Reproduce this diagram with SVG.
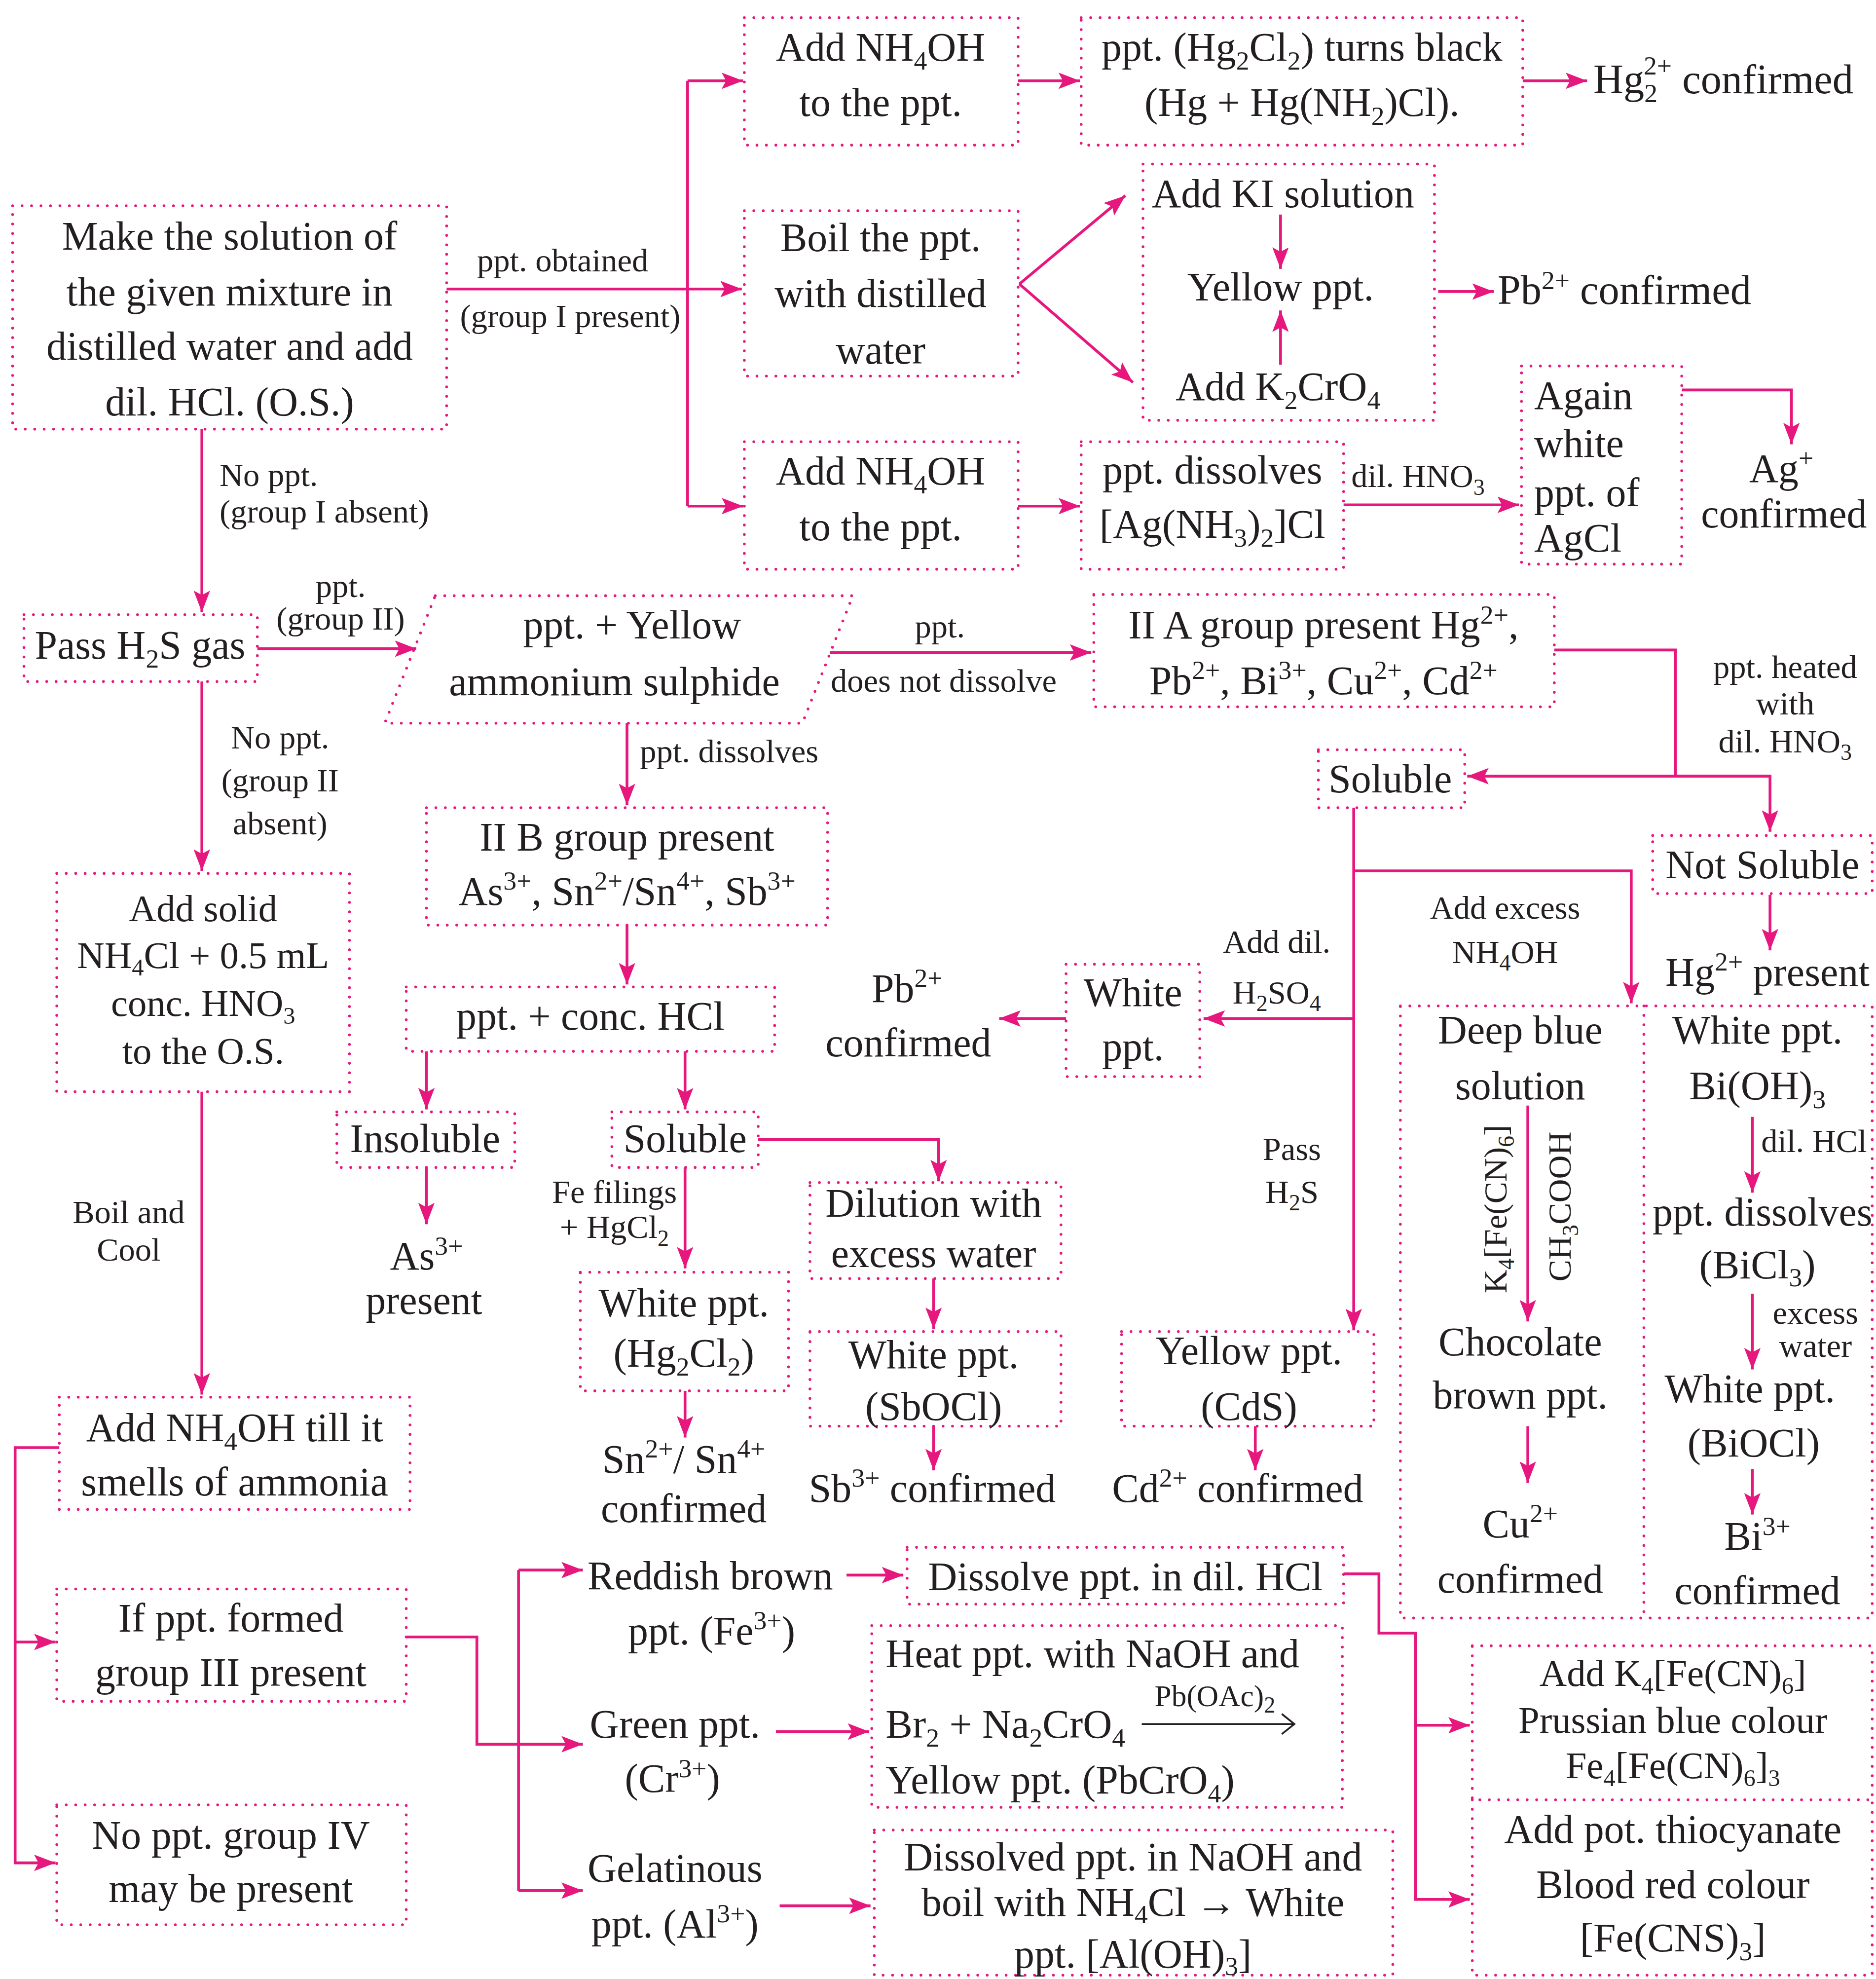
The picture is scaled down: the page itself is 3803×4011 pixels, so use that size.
<svg xmlns="http://www.w3.org/2000/svg" width="3803" height="4011" viewBox="0 0 3803 4011">
<style>
text{font-family:"Liberation Serif","Times New Roman",serif;fill:#231f20}
.m{font-size:32px;text-anchor:middle}
.m30{font-size:30px;text-anchor:middle}
.ml{font-size:32px;text-anchor:start}
.lb{font-size:26px;text-anchor:middle}
.lbs{font-size:26px;text-anchor:start}
.s{font-size:21px}
.s3{font-size:19px}
.s2{font-size:18px}
.box{fill:none;stroke:#E6177D;stroke-width:2.2;stroke-dasharray:0 7.5;stroke-linecap:round}
.c{fill:none;stroke:#E6177D;stroke-width:2.2}
.a{marker-end:url(#ah)}
</style>
<defs>
<marker id="ah" markerUnits="userSpaceOnUse" markerWidth="18" markerHeight="13" refX="17" refY="6.5" orient="auto"><path d="M0,0 L17,6.5 L0,13 L3.5,6.5 z" fill="#E6177D"/></marker>
</defs>
<rect width="3803" height="4011" fill="#ffffff"/>
<g transform="scale(2.5575 2.558)">
<g id="connectors">
<path class="c a" d="M354,229 H588"/>
<path class="c" d="M545,64 V401"/>
<path class="c a" d="M545,64 H589"/>
<path class="c a" d="M545,401 H589"/>
<path class="c a" d="M807,64 H856"/>
<path class="c a" d="M1207,64 H1258"/>
<path class="c a" d="M808,225 L892,155"/>
<path class="c a" d="M808,225 L898,303"/>
<path class="c a" d="M1015,170 V213"/>
<path class="c a" d="M1015,289 V246"/>
<path class="c a" d="M1140,231 H1184"/>
<path class="c a" d="M807,401 H856"/>
<path class="c a" d="M1065,400 H1204"/>
<path class="c a" d="M1333,309 H1420 V352"/>
<path class="c a" d="M160,340 V485"/>
<path class="c a" d="M204,514 H330"/>
<path class="c a" d="M658,517 H865"/>
<path class="c" d="M1232,515 H1328 V615"/>
<path class="c a" d="M1403,615 H1163"/>
<path class="c a" d="M1328,615 H1403 V659"/>
<path class="c a" d="M1403,709 V753"/>
<path class="c a" d="M160,540 V690"/>
<path class="c a" d="M497,573 V638"/>
<path class="c a" d="M497,733 V780"/>
<path class="c a" d="M338,833 V879"/>
<path class="c a" d="M543,833 V879"/>
<path class="c a" d="M338,925 V970"/>
<path class="c a" d="M601,903 H744 V936"/>
<path class="c a" d="M543,925 V1005"/>
<path class="c a" d="M543,1102 V1139"/>
<path class="c a" d="M740,1013 V1053"/>
<path class="c a" d="M740,1130 V1165"/>
<path class="c a" d="M1073,640 V1054"/>
<path class="c a" d="M1073,690 H1293 V795"/>
<path class="c a" d="M1073,807 H954"/>
<path class="c a" d="M845,807 H792"/>
<path class="c a" d="M995,1130 V1165"/>
<path class="c a" d="M1211,876 V1047"/>
<path class="c a" d="M1211,1130 V1175"/>
<path class="c a" d="M1389,885 V945"/>
<path class="c a" d="M1389,1025 V1085"/>
<path class="c a" d="M1389,1164 V1200"/>
<path class="c a" d="M160,865 V1105"/>
<path class="c a" d="M47,1147 H12 V1476 H44"/>
<path class="c a" d="M12,1301 H44"/>
<path class="c" d="M322,1297 H378 V1382 H411"/>
<path class="c" d="M411,1244 V1498"/>
<path class="c a" d="M411,1244 H462"/>
<path class="c a" d="M411,1382 H462"/>
<path class="c a" d="M411,1498 H462"/>
<path class="c a" d="M671,1248 H716"/>
<path class="c a" d="M615,1372 H689"/>
<path class="c a" d="M618,1510 H690"/>
<path class="c a" d="M1065,1247 H1093 V1294 H1122 V1505 H1165"/>
<path class="c a" d="M1122,1367 H1165"/>
</g>
<g id="n-start">
<rect class="box" x="10" y="163" width="344" height="177"/>
<text class="m" x="182" y="198">Make the solution of</text>
<text class="m" x="182" y="242">the given mixture in</text>
<text class="m" x="182" y="285">distilled water and add</text>
<text class="m" x="182" y="329">dil. HCl. (O.S.)</text>
</g>
<g id="l-group1">
<text class="lb" x="446" y="215">ppt. obtained</text>
<text class="lb" x="452" y="259">(group I present)</text>
<text class="lbs" x="174" y="385">No ppt.</text>
<text class="lbs" x="174" y="414">(group I absent)</text>
</g>
<g id="n-nh4oh-1">
<rect class="box" x="590" y="14" width="217" height="101"/>
<text class="m" x="698" y="48">Add NH<tspan class="s" dy="7">4</tspan><tspan dy="-7">OH</tspan></text>
<text class="m" x="698" y="92">to the ppt.</text>
</g>
<g id="n-hg2cl2">
<rect class="box" x="857" y="14" width="350" height="101"/>
<text class="m" x="1032" y="48">ppt. (Hg<tspan class="s" dy="7">2</tspan><tspan dy="-7">Cl</tspan><tspan class="s" dy="7">2</tspan><tspan dy="-7">) turns black</tspan></text>
<text class="m" x="1032" y="92">(Hg + Hg(NH<tspan class="s" dy="7">2</tspan><tspan dy="-7">)Cl).</tspan></text>
</g>
<g id="r-hg22">
<text class="ml" x="1263" y="74" style="font-size:33px">Hg<tspan class="s" dy="7">2</tspan><tspan class="s" dx="-11" dy="-22">2+</tspan><tspan dy="15"> confirmed</tspan></text>
</g>
<g id="n-boil">
<rect class="box" x="590" y="167" width="217" height="131"/>
<text class="m" x="698" y="199">Boil the ppt.</text>
<text class="m" x="698" y="243">with distilled</text>
<text class="m" x="698" y="288">water</text>
</g>
<g id="n-ki">
<rect class="box" x="906" y="130" width="231" height="203"/>
<text class="m" x="1017" y="164">Add KI solution</text>
<text class="m" x="1015" y="238">Yellow ppt.</text>
<text class="m" x="1013" y="317">Add K<tspan class="s" dy="7">2</tspan><tspan dy="-7">CrO</tspan><tspan class="s" dy="7">4</tspan></text>
</g>
<g id="r-pb">
<text class="ml" x="1187" y="241" style="font-size:33px">Pb<tspan class="s" dy="-12">2+</tspan><tspan dy="12"> confirmed</tspan></text>
</g>
<g id="n-nh4oh-2">
<rect class="box" x="590" y="350" width="217" height="101"/>
<text class="m" x="698" y="384">Add NH<tspan class="s" dy="7">4</tspan><tspan dy="-7">OH</tspan></text>
<text class="m" x="698" y="428">to the ppt.</text>
</g>
<g id="n-agdiss">
<rect class="box" x="857" y="350" width="208" height="101"/>
<text class="m" x="961" y="383">ppt. dissolves</text>
<text class="m" x="961" y="426">[Ag(NH<tspan class="s" dy="7">3</tspan><tspan dy="-7">)</tspan><tspan class="s" dy="7">2</tspan><tspan dy="-7">]Cl</tspan></text>
<text class="lb" x="1124" y="386">dil. HNO<tspan class="s2" dy="6">3</tspan></text>
</g>
<g id="n-again">
<rect class="box" x="1206" y="290" width="127" height="157"/>
<text class="ml" x="1216" y="324">Again</text>
<text class="ml" x="1216" y="362">white</text>
<text class="ml" x="1216" y="401">ppt. of</text>
<text class="ml" x="1216" y="437">AgCl</text>
</g>
<g id="r-ag">
<text class="m" x="1412" y="382">Ag<tspan class="s" dy="-12">+</tspan></text>
<text class="m" x="1414" y="418">confirmed</text>
</g>
<g id="n-h2s">
<rect class="box" x="19" y="487" width="185" height="53"/>
<text class="m" x="111" y="522">Pass H<tspan class="s" dy="7">2</tspan><tspan dy="-7">S gas</tspan></text>
<text class="lb" x="270" y="473">ppt.</text>
<text class="lb" x="270" y="499">(group II)</text>
<text class="lb" x="222" y="593">No ppt.</text>
<text class="lb" x="222" y="627">(group II</text>
<text class="lb" x="222" y="661">absent)</text>
</g>
<g id="n-yellow-amm">
<path class="box" d="M345,472 H676 L636,573 H305 Z"/>
<text class="m" x="501" y="506">ppt. + Yellow</text>
<text class="m" x="487" y="551">ammonium sulphide</text>
<text class="lb" x="745" y="505">ppt.</text>
<text class="lb" x="748" y="548">does not dissolve</text>
<text class="lb" x="578" y="604">ppt. dissolves</text>
</g>
<g id="n-iia">
<rect class="box" x="867" y="471" width="365" height="89"/>
<text class="m" x="1049" y="506">II A group present Hg<tspan class="s" dy="-12">2+</tspan><tspan dy="12">,</tspan></text>
<text class="m" x="1049" y="550">Pb<tspan class="s" dy="-12">2+</tspan><tspan dy="12">, Bi</tspan><tspan class="s" dy="-12">3+</tspan><tspan dy="12">, Cu</tspan><tspan class="s" dy="-12">2+</tspan><tspan dy="12">, Cd</tspan><tspan class="s" dy="-12">2+</tspan></text>
<text class="lb" x="1415" y="537">ppt. heated</text>
<text class="lb" x="1415" y="566">with</text>
<text class="lb" x="1415" y="596">dil. HNO<tspan class="s2" dy="6">3</tspan></text>
</g>
<g id="n-soluble-a">
<rect class="box" x="1045" y="594" width="116" height="46"/>
<text class="m" x="1102" y="628">Soluble</text>
</g>
<g id="n-notsoluble">
<rect class="box" x="1310" y="662" width="174" height="46"/>
<text class="m" x="1397" y="696">Not Soluble</text>
<text class="m" x="1401" y="781">Hg<tspan class="s" dy="-12">2+</tspan><tspan dy="12"> present</tspan></text>
</g>
<g id="n-addsolid">
<rect class="box" x="45" y="692" width="232" height="173"/>
<text class="m30" x="161" y="730">Add solid</text>
<text class="m30" x="161" y="767">NH<tspan class="s3" dy="6">4</tspan><tspan dy="-6">Cl + 0.5 mL</tspan></text>
<text class="m30" x="161" y="805">conc. HNO<tspan class="s3" dy="6">3</tspan></text>
<text class="m30" x="161" y="843">to the O.S.</text>
<text class="lb" x="102" y="969">Boil and</text>
<text class="lb" x="102" y="999">Cool</text>
</g>
<g id="n-iib">
<rect class="box" x="338" y="640" width="318" height="93"/>
<text class="m" x="497" y="674">II B group present</text>
<text class="m" x="497" y="717">As<tspan class="s" dy="-12">3+</tspan><tspan dy="12">, Sn</tspan><tspan class="s" dy="-12">2+</tspan><tspan dy="12">/Sn</tspan><tspan class="s" dy="-12">4+</tspan><tspan dy="12">, Sb</tspan><tspan class="s" dy="-12">3+</tspan></text>
</g>
<g id="n-conchcl">
<rect class="box" x="322" y="782" width="292" height="51"/>
<text class="m" x="468" y="816">ppt. + conc. HCl</text>
</g>
<g id="n-insoluble">
<rect class="box" x="267" y="881" width="141" height="44"/>
<text class="m" x="337" y="913">Insoluble</text>
<text class="m" x="338" y="1006">As<tspan class="s" dy="-12">3+</tspan></text>
<text class="m" x="336" y="1041">present</text>
</g>
<g id="n-soluble-b">
<rect class="box" x="485" y="881" width="116" height="44"/>
<text class="m" x="543" y="913">Soluble</text>
<text class="lb" x="487" y="953">Fe filings</text>
<text class="lb" x="487" y="981">+ HgCl<tspan class="s2" dy="6">2</tspan></text>
</g>
<g id="n-hg2cl2-white">
<rect class="box" x="460" y="1008" width="165" height="94"/>
<text class="m" x="542" y="1043">White ppt.</text>
<text class="m" x="542" y="1083">(Hg<tspan class="s" dy="7">2</tspan><tspan dy="-7">Cl</tspan><tspan class="s" dy="7">2</tspan><tspan dy="-7">)</tspan></text>
<text class="m" x="542" y="1167">Sn<tspan class="s" dy="-12">2+</tspan><tspan dy="12">/ Sn</tspan><tspan class="s" dy="-12">4+</tspan></text>
<text class="m" x="542" y="1206">confirmed</text>
</g>
<g id="n-dilution">
<rect class="box" x="642" y="937" width="199" height="76"/>
<text class="m" x="740" y="964">Dilution with</text>
<text class="m" x="740" y="1004">excess water</text>
</g>
<g id="n-sbocl">
<rect class="box" x="642" y="1055" width="199" height="75"/>
<text class="m" x="740" y="1084">White ppt.</text>
<text class="m" x="740" y="1125">(SbOCl)</text>
<text class="m" x="739" y="1190">Sb<tspan class="s" dy="-12">3+</tspan><tspan dy="12"> confirmed</tspan></text>
</g>
<g id="n-whiteppt-pb">
<rect class="box" x="845" y="764" width="106" height="89"/>
<text class="m" x="898" y="797">White</text>
<text class="m" x="898" y="840">ppt.</text>
<text class="m" x="719" y="794">Pb<tspan class="s" dy="-12">2+</tspan></text>
<text class="m" x="720" y="837">confirmed</text>
<text class="lb" x="1012" y="755">Add dil.</text>
<text class="lb" x="1012" y="795">H<tspan class="s2" dy="6">2</tspan><tspan dy="-6">SO</tspan><tspan class="s2" dy="6">4</tspan></text>
<text class="lb" x="1193" y="728">Add excess</text>
<text class="lb" x="1193" y="763">NH<tspan class="s2" dy="6">4</tspan><tspan dy="-6">OH</tspan></text>
<text class="lb" x="1024" y="919">Pass</text>
<text class="lb" x="1024" y="953">H<tspan class="s2" dy="6">2</tspan><tspan dy="-6">S</tspan></text>
</g>
<g id="n-cds">
<rect class="box" x="889" y="1055" width="200" height="75"/>
<text class="m" x="990" y="1081">Yellow ppt.</text>
<text class="m" x="990" y="1125">(CdS)</text>
<text class="m" x="981" y="1190">Cd<tspan class="s" dy="-12">2+</tspan><tspan dy="12"> confirmed</tspan></text>
</g>
<g id="n-cu-bi">
<rect class="box" x="1110" y="797" width="374" height="485"/>
<path class="box" d="M1303,797 V1282"/>
<text class="m" x="1205" y="827">Deep blue</text>
<text class="m" x="1205" y="871">solution</text>
<text class="lb" transform="rotate(-90 1185 958)" x="1185" y="967">K<tspan class="s2" dy="6">4</tspan><tspan dy="-6">[Fe(CN)</tspan><tspan class="s2" dy="6">6</tspan><tspan dy="-6">]</tspan></text>
<text class="lb" transform="rotate(-90 1236 956)" x="1236" y="965">CH<tspan class="s2" dy="6">3</tspan><tspan dy="-6">COOH</tspan></text>
<text class="m" x="1205" y="1074">Chocolate</text>
<text class="m" x="1205" y="1116">brown ppt.</text>
<text class="m" x="1205" y="1218">Cu<tspan class="s" dy="-12">2+</tspan></text>
<text class="m" x="1205" y="1262">confirmed</text>
<text class="m" x="1393" y="827">White ppt.</text>
<text class="m" x="1393" y="871">Bi(OH)<tspan class="s" dy="7">3</tspan></text>
<text class="lbs" x="1396" y="913">dil. HCl</text>
<text class="m" x="1397" y="971">ppt. dissolves</text>
<text class="m" x="1393" y="1013">(BiCl<tspan class="s" dy="6">3</tspan><tspan dy="-6">)</tspan></text>
<text class="lb" x="1439" y="1049">excess</text>
<text class="lb" x="1439" y="1075">water</text>
<text class="m" x="1387" y="1111">White ppt.</text>
<text class="m" x="1390" y="1154">(BiOCl)</text>
<text class="m" x="1393" y="1228">Bi<tspan class="s" dy="-12">3+</tspan></text>
<text class="m" x="1393" y="1271">confirmed</text>
</g>
<g id="n-nh4oh-till">
<rect class="box" x="47" y="1107" width="278" height="89"/>
<text class="m" x="186" y="1142">Add NH<tspan class="s" dy="7">4</tspan><tspan dy="-7">OH till it</tspan></text>
<text class="m" x="186" y="1185">smells of ammonia</text>
</g>
<g id="n-group3">
<rect class="box" x="45" y="1259" width="277" height="89"/>
<text class="m" x="183" y="1293">If ppt. formed</text>
<text class="m" x="183" y="1336">group III present</text>
</g>
<g id="n-group4">
<rect class="box" x="45" y="1430" width="277" height="95"/>
<text class="m" x="183" y="1465">No ppt. group IV</text>
<text class="m" x="183" y="1507">may be present</text>
</g>
<g id="n-fe">
<text class="m" x="563" y="1259">Reddish brown</text>
<text class="m" x="564" y="1303">ppt. (Fe<tspan class="s" dy="-12">3+</tspan><tspan dy="12">)</tspan></text>
</g>
<g id="n-cr">
<text class="m" x="535" y="1377">Green ppt.</text>
<text class="m" x="533" y="1420">(Cr<tspan class="s" dy="-12">3+</tspan><tspan dy="12">)</tspan></text>
</g>
<g id="n-al">
<text class="m" x="535" y="1491">Gelatinous</text>
<text class="m" x="535" y="1535">ppt. (Al<tspan class="s" dy="-12">3+</tspan><tspan dy="12">)</tspan></text>
</g>
<g id="n-dissolve-hcl">
<rect class="box" x="719" y="1226" width="346" height="45"/>
<text class="m" x="892" y="1260">Dissolve ppt. in dil. HCl</text>
</g>
<g id="n-heat">
<rect class="box" x="691" y="1288" width="373" height="144"/>
<text class="ml" x="702" y="1321">Heat ppt. with NaOH and</text>
<text class="ml" x="702" y="1377">Br<tspan class="s" dy="7">2</tspan><tspan dy="-7"> + Na</tspan><tspan class="s" dy="7">2</tspan><tspan dy="-7">CrO</tspan><tspan class="s" dy="7">4</tspan></text>
<text x="963" y="1352" style="font-size:24px;text-anchor:middle">Pb(OAc)<tspan class="s2" dy="5">2</tspan></text>
<path d="M905,1366 H1026 M1016,1358 L1026,1366 L1016,1374" fill="none" stroke="#231f20" stroke-width="1.4"/>
<text class="ml" x="702" y="1421">Yellow ppt. (PbCrO<tspan class="s" dy="7">4</tspan><tspan dy="-7">)</tspan></text>
</g>
<g id="n-al-test">
<rect class="box" x="693" y="1450" width="411" height="115"/>
<text class="m" x="898" y="1482">Dissolved ppt. in NaOH and</text>
<text class="m" x="898" y="1518">boil with NH<tspan class="s" dy="6">4</tspan><tspan dy="-6">Cl → White</tspan></text>
<text class="m" x="898" y="1559">ppt. [Al(OH)<tspan class="s" dy="6">3</tspan><tspan dy="-6">]</tspan></text>
</g>
<g id="n-prussian">
<rect class="box" x="1167" y="1304" width="317" height="122"/>
<text class="m30" x="1326" y="1336">Add K<tspan class="s3" dy="6">4</tspan><tspan dy="-6">[Fe(CN)</tspan><tspan class="s3" dy="6">6</tspan><tspan dy="-6">]</tspan></text>
<text class="m30" x="1326" y="1373">Prussian blue colour</text>
<text class="m30" x="1326" y="1409">Fe<tspan class="s3" dy="6">4</tspan><tspan dy="-6">[Fe(CN)</tspan><tspan class="s3" dy="6">6</tspan><tspan dy="-6">]</tspan><tspan class="s3" dy="6">3</tspan></text>
</g>
<g id="n-thiocyanate">
<path class="box" d="M1167,1426 V1565 H1484 V1426"/>
<text class="m" x="1326" y="1460">Add pot. thiocyanate</text>
<text class="m" x="1326" y="1504">Blood red colour</text>
<text class="m" x="1326" y="1546">[Fe(CNS)<tspan class="s" dy="7">3</tspan><tspan dy="-7">]</tspan></text>
</g>
</g>
</svg>
